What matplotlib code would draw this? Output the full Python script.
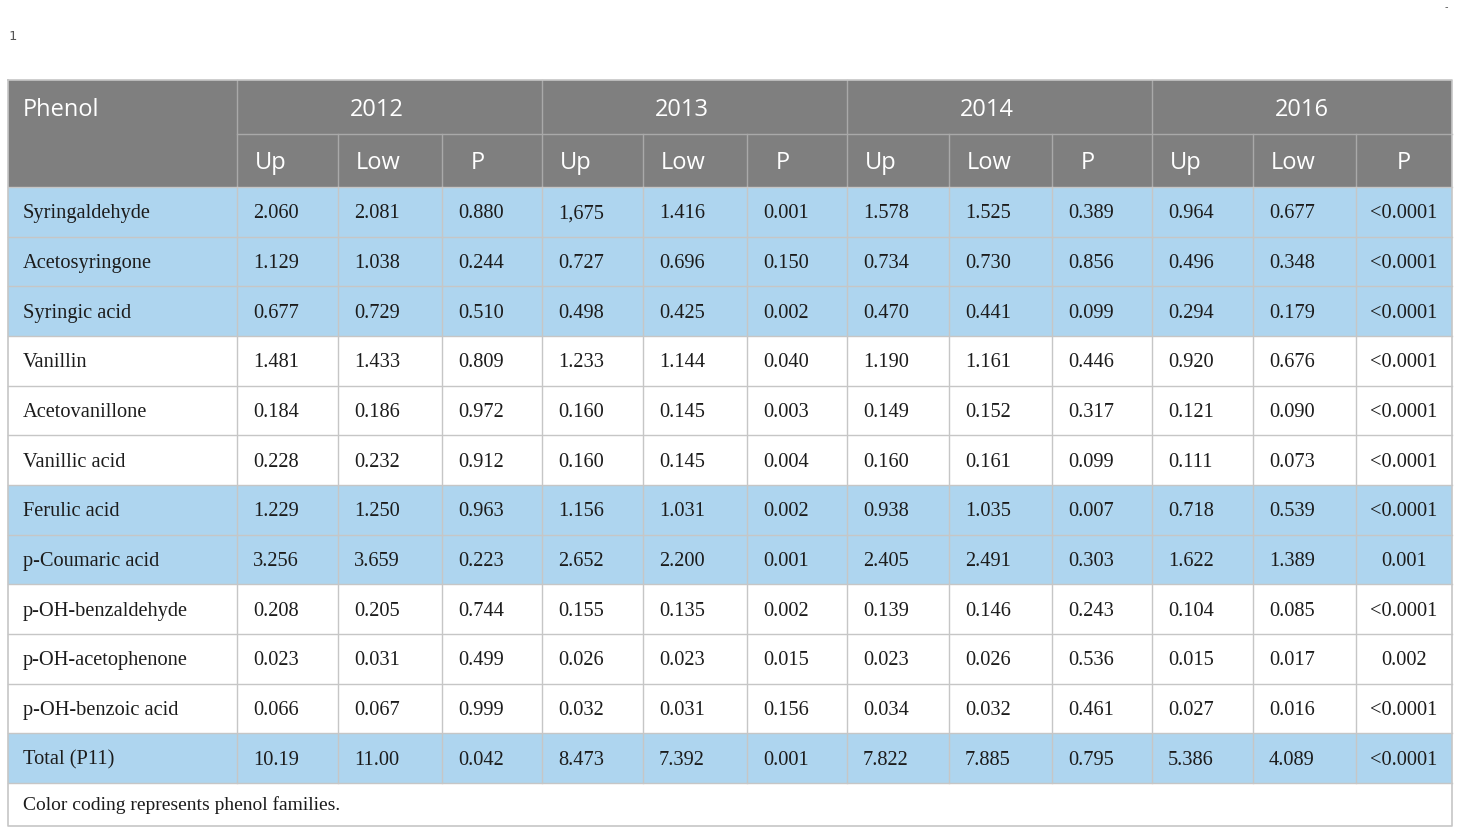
import matplotlib
matplotlib.use("Agg")
import matplotlib.pyplot as plt
from matplotlib.patches import Rectangle

# ---------------- data ----------------
years = ["2012", "2013", "2014", "2016"]
subcols = ["Up", "Low", "P"]
phenols = ["Syringaldehyde", "Acetosyringone", "Syringic acid", "Vanillin",
           "Acetovanillone", "Vanillic acid", "Ferulic acid", "p-Coumaric acid",
           "p-OH-benzaldehyde", "p-OH-acetophenone", "p-OH-benzoic acid", "Total (P11)"]
up_2012 = ["2.060", "1.129", "0.677", "1.481", "0.184", "0.228", "1.229", "3.256", "0.208", "0.023", "0.066", "10.19"]
low_2012 = ["2.081", "1.038", "0.729", "1.433", "0.186", "0.232", "1.250", "3.659", "0.205", "0.031", "0.067", "11.00"]
p_2012 = ["0.880", "0.244", "0.510", "0.809", "0.972", "0.912", "0.963", "0.223", "0.744", "0.499", "0.999", "0.042"]
up_2013 = ["1,675", "0.727", "0.498", "1.233", "0.160", "0.160", "1.156", "2.652", "0.155", "0.026", "0.032", "8.473"]
low_2013 = ["1.416", "0.696", "0.425", "1.144", "0.145", "0.145", "1.031", "2.200", "0.135", "0.023", "0.031", "7.392"]
p_2013 = ["0.001", "0.150", "0.002", "0.040", "0.003", "0.004", "0.002", "0.001", "0.002", "0.015", "0.156", "0.001"]
up_2014 = ["1.578", "0.734", "0.470", "1.190", "0.149", "0.160", "0.938", "2.405", "0.139", "0.023", "0.034", "7.822"]
low_2014 = ["1.525", "0.730", "0.441", "1.161", "0.152", "0.161", "1.035", "2.491", "0.146", "0.026", "0.032", "7.885"]
p_2014 = ["0.389", "0.856", "0.099", "0.446", "0.317", "0.099", "0.007", "0.303", "0.243", "0.536", "0.461", "0.795"]
up_2016 = ["0.964", "0.496", "0.294", "0.920", "0.121", "0.111", "0.718", "1.622", "0.104", "0.015", "0.027", "5.386"]
low_2016 = ["0.677", "0.348", "0.179", "0.676", "0.090", "0.073", "0.539", "1.389", "0.085", "0.017", "0.016", "4.089"]
p_2016 = ["<0.0001", "<0.0001", "<0.0001", "<0.0001", "<0.0001", "<0.0001", "<0.0001", "0.001", "<0.0001", "0.002", "<0.0001", "<0.0001"]
highlighted = [True, True, True, False, False, False, True, True, False, False, False, True]
footnote = "Color coding represents phenol families."

columns = [up_2012, low_2012, p_2012, up_2013, low_2013, p_2013,
           up_2014, low_2014, p_2014, up_2016, low_2016, p_2016]

# ---------------- layout ----------------
W, H = 1460, 834
fig = plt.figure(figsize=(W / 100, H / 100), dpi=100)
ax = fig.add_axes([0, 0, 1, 1])
ax.set_xlim(0, W)
ax.set_ylim(H, 0)
ax.axis("off")

xs = [8, 237, 338, 442, 542, 643, 747, 847, 949, 1052, 1152, 1253, 1356, 1452]
y_top = 80
y_h1 = 134
y_h2 = 187
row_h = (783 - 187) / 12
y_foot_bot = 826

HEAD = "#7f7f7f"
BLUE = "#aed5ef"
GRID = "#c6c6c6"
HGRID = "#a9a9a9"
TXT = "#1c1c1c"
hfont = dict(family="Open Sans", size=17, color="white")
bfont = dict(family="Liberation Serif", size=14.7, color=TXT)

# header background
ax.add_patch(Rectangle((xs[0], y_top), xs[-1] - xs[0], y_h2 - y_top, facecolor=HEAD, edgecolor="none"))
# header grid
for i in range(1, 13):
    if i in (1, 4, 7, 10):
        ax.plot([xs[i], xs[i]], [y_top, y_h2], color=HGRID, lw=1)
    else:
        ax.plot([xs[i], xs[i]], [y_h1, y_h2], color=HGRID, lw=1)
ax.plot([xs[1], xs[-1]], [y_h1, y_h1], color=HGRID, lw=1)

hy1 = (y_top + y_h1) / 2 + 2.5
hy2 = (y_h1 + y_h2) / 2 + 2.5
ax.text(xs[0] + 15, hy1, "Phenol", ha="left", va="center", **hfont)
for k, yr in enumerate(years):
    a, b = xs[1 + 3 * k], xs[4 + 3 * k]
    cx = (a + b) / 2 - (13 if k < 3 else 0)
    ax.text(cx, hy1, yr, ha="center", va="center", **hfont)
    for j, sc in enumerate(subcols):
        c = 1 + 3 * k + j
        if sc == "P":
            px = (xs[c] + xs[c + 1]) / 2 if k == 3 else xs[c] + 36
            ax.text(px, hy2, sc, ha="center", va="center", **hfont)
        else:
            ax.text(xs[c] + 18, hy2, sc, ha="left", va="center", **hfont)

# body rows
for r, name in enumerate(phenols):
    y0 = y_h2 + r * row_h
    fc = BLUE if highlighted[r] else "white"
    ax.add_patch(Rectangle((xs[0], y0), xs[-1] - xs[0], row_h, facecolor=fc, edgecolor="none"))
    ym = y0 + row_h / 2 + 2
    ax.text(xs[0] + 15, ym, name, ha="left", va="center", **bfont)
    for c, col in enumerate(columns):
        if c == 11:
            ax.text((xs[12] + xs[13]) / 2, ym, col[r], ha="center", va="center", **bfont)
        else:
            ax.text(xs[c + 1] + 16, ym, col[r], ha="left", va="center", **bfont)

y_body_bot = y_h2 + 12 * row_h
# body grid
for r in range(13):
    y = y_h2 + r * row_h
    ax.plot([xs[0], xs[-1]], [y, y], color=GRID, lw=1)
for i in range(1, 13):
    ax.plot([xs[i], xs[i]], [y_h2, y_body_bot], color=GRID, lw=1)
# outer border
ax.plot([xs[0], xs[0], xs[-1], xs[-1], xs[0]],
        [y_top, y_foot_bot, y_foot_bot, y_top, y_top], color=GRID, lw=1.2)

# footnote
ax.text(xs[0] + 15, (y_body_bot + y_foot_bot) / 2 + 1, footnote, ha="left", va="center",
        family="Liberation Serif", size=14, color=TXT)

# page marks
ax.text(8, 36, "1", ha="left", va="center", family="DejaVu Sans Mono", size=9.5, color="#555555")
ax.text(1446, 7, "-", ha="center", va="center", family="DejaVu Sans", size=7, color="#555555")

fig.savefig("out.png", dpi=100)
